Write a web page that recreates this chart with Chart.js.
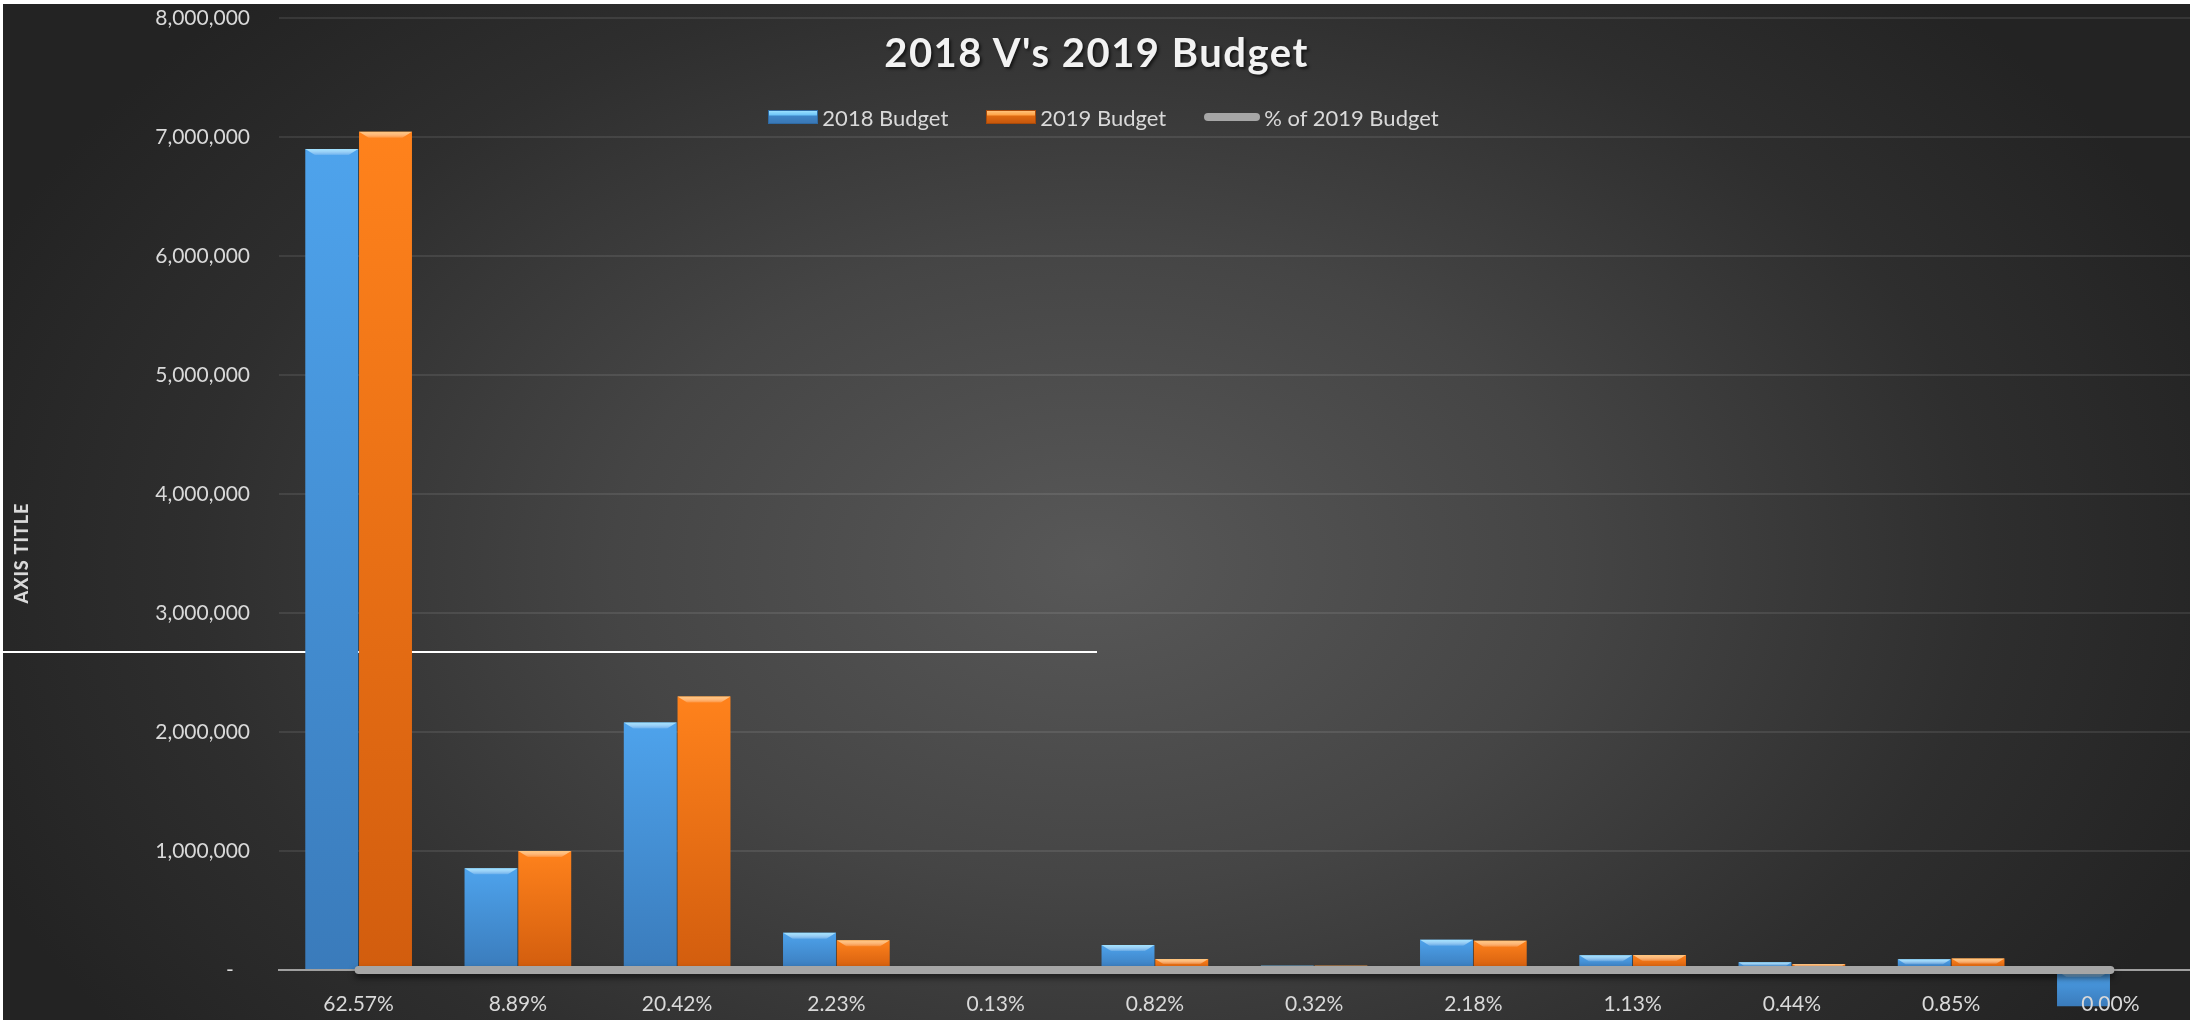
<!DOCTYPE html>
<html lang="en">
<head>
    <meta charset="UTF-8">
    <title>2018 V's 2019 Budget</title>
    <script src="https://cdn.jsdelivr.net/npm/chart.js"></script>
    <style>
        html, body {
            margin: 0;
            padding: 0;
            background: #fff;
        }

        #wrap {
            position: relative;
            width: 2190px;
            height: 1020px;
            box-sizing: border-box;
            border-top: 4px solid #fff;
            border-left: 3px solid #fff;
            overflow: hidden;
            font-family: Lato, "Open Sans", sans-serif;
            background: radial-gradient(ellipse 1200px 800px at 1090px 560px, #585858 0%, #454545 40%, #2e2e2e 75%, #232323 100%);
        }

        #chartBox {
            position: absolute;
            left: 0;
            top: 0;
            width: 2187px;
            height: 1016px;
            z-index: 2;
        }

        /* stray white line from the original sheet */
        #strayLine {
            position: absolute;
            left: 0;
            top: 647px;
            width: 1094px;
            height: 2px;
            background: #fff;
            z-index: 1;
        }

        #title {
            position: absolute;
            left: 0;
            top: 24px;
            width: 100%;
            text-align: center;
            color: #f2f2f2;
            font-size: 40px;
            font-weight: bold;
            letter-spacing: 1.5px;
            line-height: 48px;
            text-shadow: 2px 2px 3px rgba(0, 0, 0, 0.6);
            z-index: 3;
        }

        #legend {
            position: absolute;
            left: 0;
            top: 98px;
            width: 100%;
            height: 30px;
            display: flex;
            justify-content: center;
            align-items: center;
            padding-left: 14px;
            box-sizing: border-box;
            color: #d9d9d9;
            font-size: 22px;
            z-index: 3;
        }

        .item {
            display: flex;
            align-items: center;
            margin: 0 19px;
        }

        .swatch {
            width: 50px;
            height: 14px;
            margin-right: 4px;
            box-sizing: border-box;
        }

        .blue {
            background: linear-gradient(#9ae0ff 0%, #6cc4f8 35%, #3f86c8 40%, #3a78b6 100%);
            border: 1px solid #2f6aa3;
        }

        .orange {
            background: linear-gradient(#ffc27a 0%, #ffa245 35%, #e06a12 40%, #c8580c 100%);
            border: 1px solid #a84a0a;
        }

        .grey {
            width: 56px;
            height: 8px;
            border-radius: 4px;
            background: #a6a6a6;
        }

        #axisTitle {
            position: absolute;
            left: -82px;
            top: 537px;
            width: 200px;
            height: 24px;
            line-height: 24px;
            text-align: center;
            color: #d9d9d9;
            font-size: 18px;
            font-weight: 900;
            letter-spacing: 1px;
            transform: rotate(-90deg);
            z-index: 3;
        }
    </style>
</head>
<body>
    <div id="wrap">
        <div id="strayLine"></div>
        <div id="title">2018 V's 2019 Budget</div>
        <div id="legend">
            <div class="item"><div class="swatch blue"></div>2018 Budget</div>
            <div class="item"><div class="swatch orange"></div>2019 Budget</div>
            <div class="item"><div class="swatch grey"></div>% of 2019 Budget</div>
        </div>
        <div id="axisTitle">AXIS TITLE</div>
        <div id="chartBox"><canvas id="budgetChart"></canvas></div>
    </div>

    <script>
        // valores
        const pctOfBudget = [62.57, 8.89, 20.42, 2.23, 0.13, 0.82, 0.32, 2.18, 1.13, 0.44, 0.85, 0.00];
        const categories = pctOfBudget.map(p => p.toFixed(2) + '%');
        const budget2018 = [6900000, 855000, 2080000, 312000, 30000, 210000, 35000, 255000, 125000, 65000, 90000, -305000];
        const budget2019 = [7045000, 1001000, 2299000, 251000, 14600, 92000, 36000, 245500, 127000, 49500, 95700, 0];
        const yMin = 0;
        const yMax = 8000000;
        const yStep = 1000000;

        // gradiente vertical para cada barra
        function barFill(top, bottom) {
            return function (c) {
                const chart = c.chart;
                const y = chart.scales.y;
                if (!y || c.raw === undefined) return top;
                const p0 = y.getPixelForValue(0);
                const p1 = y.getPixelForValue(c.raw);
                if (!isFinite(p0) || !isFinite(p1) || Math.abs(p0 - p1) < 1) return top;
                const g = chart.ctx.createLinearGradient(0, Math.min(p0, p1), 0, Math.max(p0, p1));
                g.addColorStop(0, top);
                g.addColorStop(1, bottom);
                return g;
            };
        }

        // cores do chanfro no topo das barras
        const bevelColors = ['#9fe2ff', '#ffc47a'];

        // chanfro em cima de cada barra (estilo Excel)
        const barBevel = {
            id: 'barBevel',
            afterDatasetDraw(chart, args) {
                if (args.meta.type !== 'bar') return;
                const c = chart.ctx;
                const color = bevelColors[args.index];
                c.save();
                args.meta.data.forEach(bar => {
                    const p = bar.getProps(['x', 'y', 'base', 'width'], true);
                    const h = Math.abs(p.base - p.y);
                    if (h < 2) return;
                    const top = Math.min(p.y, p.base);
                    const left = p.x - p.width / 2;
                    const right = p.x + p.width / 2;
                    const b = Math.min(6, h / 2);
                    const g = c.createLinearGradient(0, top, 0, top + b);
                    g.addColorStop(0, color);
                    g.addColorStop(1, 'rgba(255, 255, 255, 0.15)');
                    c.fillStyle = g;
                    c.beginPath();
                    c.moveTo(left, top);
                    c.lineTo(right, top);
                    c.lineTo(right - b * 1.6, top + b);
                    c.lineTo(left + b * 1.6, top + b);
                    c.closePath();
                    c.fill();
                });
                c.restore();
            }
        };

        // sombra embaixo da linha cinza
        const lineShadow = {
            id: 'lineShadow',
            beforeDatasetDraw(chart, args) {
                if (args.meta.type === 'line') {
                    chart.ctx.save();
                    chart.ctx.shadowColor = 'rgba(0, 0, 0, 0.55)';
                    chart.ctx.shadowOffsetY = 4;
                    chart.ctx.shadowBlur = 6;
                }
            },
            afterDatasetDraw(chart, args) {
                if (args.meta.type === 'line') {
                    chart.ctx.restore();
                }
            }
        };

        const ctx = document.getElementById('budgetChart').getContext('2d');
        new Chart(ctx, {
            data: {
                labels: categories,
                datasets: [
                    {
                        type: 'bar',
                        label: '2018 Budget',
                        data: budget2018,
                        backgroundColor: barFill('#4ea3ec', '#3a7bbb'),
                        borderColor: '#2f6aa3',
                        borderWidth: 0,
                        categoryPercentage: 0.675,
                        barPercentage: 0.985,
                        clip: false
                    },
                    {
                        type: 'bar',
                        label: '2019 Budget',
                        data: budget2019,
                        backgroundColor: barFill('#ff821c', '#d25d0e'),
                        borderColor: '#a84a0a',
                        borderWidth: 0,
                        categoryPercentage: 0.675,
                        barPercentage: 0.985,
                        clip: false
                    },
                    {
                        type: 'line',
                        label: '% of 2019 Budget',
                        data: pctOfBudget.map(p => p / 100),
                        borderColor: '#a6a6a6',
                        borderWidth: 8,
                        borderCapStyle: 'round',
                        borderJoinStyle: 'round',
                        pointRadius: 0,
                        tension: 0,
                        order: -1,
                        clip: false
                    }
                ]
            },
            options: {
                responsive: true,
                maintainAspectRatio: false,
                animation: false,
                devicePixelRatio: 1,
                layout: {
                    padding: { top: 14, left: 0, right: 0, bottom: 0 }
                },
                plugins: {
                    legend: { display: false },
                    title: { display: false },
                    tooltip: { enabled: false }
                },
                scales: {
                    x: {
                        grid: { display: false, drawTicks: false },
                        border: { display: true, color: '#a0a0a0', width: 2 },
                        ticks: {
                            z: 1,
                            color: '#d9d9d9',
                            font: { family: 'Lato', size: 21 },
                            padding: 22
                        },
                        afterFit(scale) {
                            scale.height = 50;
                        }
                    },
                    y: {
                        min: yMin,
                        max: yMax,
                        grid: { color: 'rgba(255, 255, 255, 0.09)', lineWidth: 2, drawTicks: false },
                        border: { display: false },
                        ticks: {
                            stepSize: yStep,
                            color: '#d9d9d9',
                            font: { family: 'Lato', size: 21 },
                            padding: 29,
                            callback: v => v === 0 ? '-   ' : v.toLocaleString('en-US')
                        },
                        afterFit(scale) {
                            scale.width = 276;
                            scale.paddingTop = 0;
                            scale.paddingBottom = 0;
                        }
                    }
                }
            },
            plugins: [barBevel, lineShadow]
        });
    </script>
</body>
</html>
